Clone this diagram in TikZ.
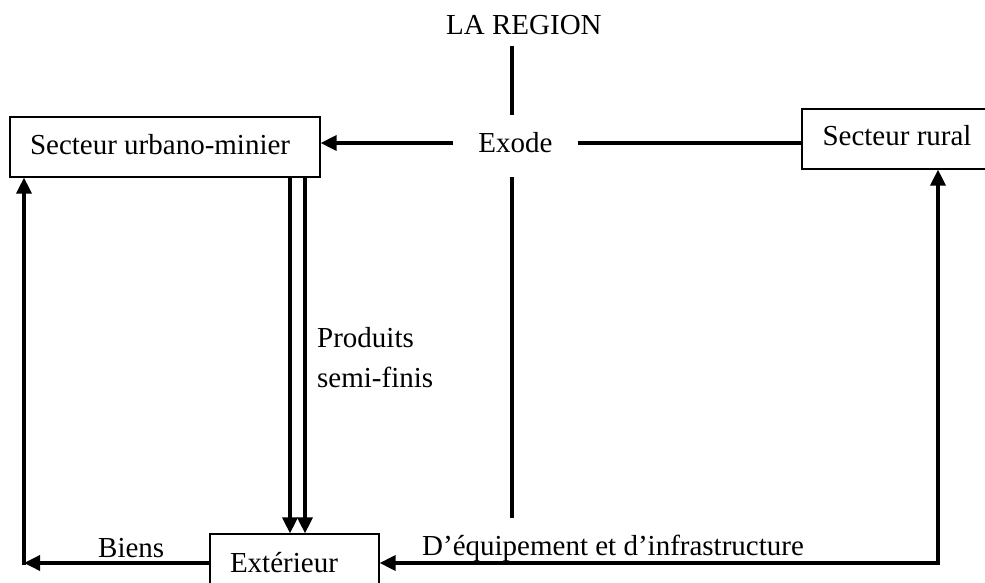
\documentclass[tikz,border=0pt]{standalone}
\usepackage{fontspec}
\setmainfont{Liberation Serif}
\usetikzlibrary{arrows.meta}
\begin{document}
\begin{tikzpicture}[x=1pt,y=-1pt,
  every node/.style={font=\fontsize{29}{40}\selectfont},
  box/.style={draw, line width=1.2pt, minimum height=60pt, inner xsep=20pt, inner ysep=0pt,
              text height=20pt, text depth=6pt},
  lbl/.style={inner sep=0pt, anchor=base west},
  thickline/.style={line width=3.5pt},
  arr/.style={line width=3.5pt, -{Triangle[length=16pt,width=15pt]}}]
\useasboundingbox (0,0) rectangle (985,583);
\clip (0,0) rectangle (985,583);
% boxes
\node[box, minimum width=310pt, text width=270pt, align=flush left] (urb) at (165,147) {Secteur urbano-minier};
\node[box, minimum width=190pt, inner xsep=10pt] (rur) at (897,139) {Secteur rural};
\node[box, minimum width=169pt, text width=129pt, align=flush left, minimum height=62pt] (ext) at (294.5,565) {Extérieur};
% texts
\node[lbl] (region) at (446,35) {LA REGION};
\node[inner xsep=25pt, inner ysep=0pt] (exode) at (515.5,143) {Exode};
\node[lbl, align=flush left] (prod) at (317,387) {Produits\\semi-finis};
\node[lbl] (biens) at (98,557) {Biens};
\node[lbl] (equip) at (422,555) {D’équipement et d’infrastructure};
% coordinates
\coordinate (vtop) at (512,46);
\coordinate (vmida) at (512,115);
\coordinate (vmidb) at (512,177);
\coordinate (vbot) at (512,518);
\coordinate (pa) at (290,0);
\coordinate (pb) at (305,0);
\coordinate (cl) at (24,563);
\coordinate (cr) at (938,563);
% central axis
\draw[thickline] (vtop) -- (vmida);
\draw[thickline] (vmidb) -- (vbot);
% exode
\draw[arr] (exode.west) -- (exode.west -| urb.east);
\draw[thickline] (exode.east) -- (exode.east -| rur.west);
% produits semi-finis
\draw[arr] (urb.south -| pa) -- (ext.north -| pa);
\draw[arr] (urb.south -| pb) -- (ext.north -| pb);
% biens
\draw[arr] (cl -| ext.west) -- (cl);
\draw[arr, line cap=rect] (cl) -- (cl |- urb.south);
% equipement
\draw[arr] (cr) -- (cr -| ext.east);
\draw[arr, line cap=rect] (cr) -- (cr |- rur.south);
\end{tikzpicture}
\end{document}
